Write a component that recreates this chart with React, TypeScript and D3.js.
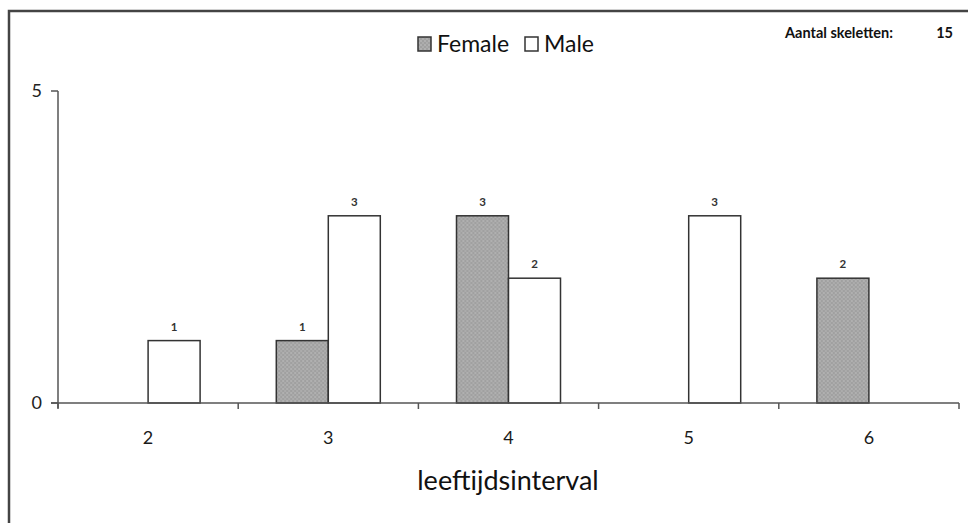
import React from "react";
import * as d3 from "d3";

const categories = ["2", "3", "4", "5", "6"];
const female = [0, 1, 3, 0, 2];
const male = [1, 3, 2, 3, 0];
const series = ["Female", "Male"];
const yTicks = [0, 5];
const totalLabel = "Aantal skeletten:";
const totalValue = 15;
const xTitle = "leeftijdsinterval";

const W = 968;
const H = 523;
const FONT = "Lato, 'Open Sans', sans-serif";

export default function App() {
  const x = d3.scaleBand<string>().domain(categories).range([58, 959]).padding(0);
  const inner = d3
    .scaleBand<string>()
    .domain(series)
    .range([x.bandwidth() / 2 - 52, x.bandwidth() / 2 + 52])
    .padding(0);
  const y = d3.scaleLinear().domain([0, 5]).range([403, 91]);
  const axisColor = "#555";

  const values: Record<string, number[]> = { Female: female, Male: male };
  const boundaries = categories.map((c) => x(c)!).concat([x.range()[1]]);

  return (
    <svg
      width={W}
      height={H}
      style={{ position: "absolute", left: 0, top: 0, background: "#fff" }}
      fontFamily={FONT}
    >
      <defs>
        <pattern id="dots" width="4" height="4" patternUnits="userSpaceOnUse">
          <rect width="4" height="4" fill="#a0a0a0" />
          <circle cx="1" cy="1" r="0.8" fill="#c4c4c4" />
          <circle cx="3" cy="3" r="0.8" fill="#bcbcbc" />
        </pattern>
      </defs>
      {/* outer frame */}
      <path d={`M9,${H + 5} V11 H${W + 5}`} fill="none" stroke="#444" strokeWidth={2.5} />

      {/* bars */}
      {categories.map((c, i) => (
        <g key={c} transform={`translate(${x(c)},0)`}>
          {series.map((s) => {
            const v = values[s][i];
            if (!v) return null;
            const bx = inner(s)!;
            return (
              <g key={s}>
                <rect
                  x={bx}
                  y={y(v)}
                  width={inner.bandwidth()}
                  height={y(0) - y(v)}
                  fill={s === "Female" ? "url(#dots)" : "#fff"}
                  stroke="#333"
                  strokeWidth={1.5}
                />
                <text
                  x={bx + inner.bandwidth() / 2}
                  y={y(v) - 10}
                  textAnchor="middle"
                  fontSize={11.5}
                  fontWeight="bold"
                  fill="#333"
                >
                  {v}
                </text>
              </g>
            );
          })}
        </g>
      ))}

      {/* y axis */}
      <line x1={58} x2={58} y1={y(5)} y2={408} stroke={axisColor} strokeWidth={1.5} />
      {yTicks.map((t) => (
        <g key={t}>
          <line x1={51} x2={58} y1={y(t)} y2={y(t)} stroke={axisColor} strokeWidth={1.5} />
          <text x={42} y={y(t)} dy="0.35em" textAnchor="end" fontSize={18} fill="#222">
            {t}
          </text>
        </g>
      ))}

      {/* x axis */}
      <line x1={51} x2={x.range()[1]} y1={y(0)} y2={y(0)} stroke={axisColor} strokeWidth={1.5} />
      {boundaries.map((b, i) => (
        <line key={i} x1={b} x2={b} y1={y(0)} y2={409} stroke={axisColor} strokeWidth={1.5} />
      ))}
      {categories.map((c) => (
        <text
          key={c}
          x={x(c)! + x.bandwidth() / 2}
          y={438}
          dy="0.35em"
          textAnchor="middle"
          fontSize={18}
          fill="#1a1a1a"
        >
          {c}
        </text>
      ))}
      <text x={508} y={481} dy="0.35em" textAnchor="middle" fontSize={27} fill="#111">
        {xTitle}
      </text>

      {/* legend */}
      <g>
        <rect x={418} y={37} width={13} height={14} fill="url(#dots)" stroke="#333" strokeWidth={1.5} />
        <text x={437} y={44} dy="0.35em" fontSize={23} fill="#111">
          Female
        </text>
        <rect x={525} y={37} width={13} height={14} fill="#fff" stroke="#333" strokeWidth={1.5} />
        <text x={544} y={44} dy="0.35em" fontSize={23} fill="#111">
          Male
        </text>
      </g>

      {/* total */}
      <text x={785} y={33} dy="0.35em" fontSize={14.5} fontWeight="bold" fill="#111">
        {totalLabel}
      </text>
      <text x={953} y={33} dy="0.35em" textAnchor="end" fontSize={14.5} fontWeight="bold" fill="#111">
        {totalValue}
      </text>
    </svg>
  );
}
